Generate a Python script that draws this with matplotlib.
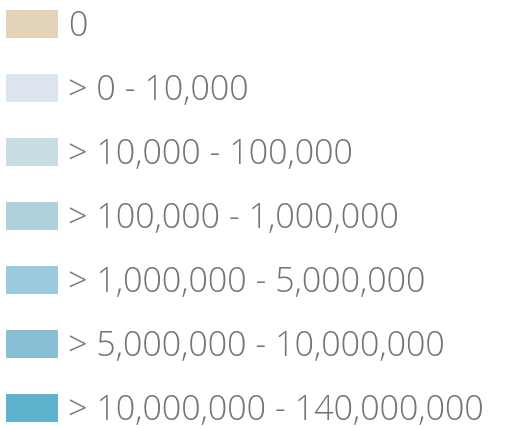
import numpy as np
import matplotlib.pyplot as plt

# legend classes (population ranges) and their fill colours
labels = [
    "0",
    "> 0 - 10,000",
    "> 10,000 - 100,000",
    "> 100,000 - 1,000,000",
    "> 1,000,000 - 5,000,000",
    "> 5,000,000 - 10,000,000",
    "> 10,000,000 - 140,000,000",
]
colors = ["#E2D3B8", "#DCE5EE", "#C9DDE4", "#AFD0DC", "#9DC9DC", "#87C0D5", "#5FB2CC"]

fig = plt.figure(figsize=(5.15, 4.31), dpi=100)
ax = fig.add_axes([0, 0, 1, 1])

y = np.arange(len(labels))
ax.barh(y, width=52, left=6, height=0.44, color=colors, edgecolor="none")
for yi, lab in zip(y, labels):
    ax.text(68, yi + 0.02, lab, ha="left", va="center", fontsize=24.5,
            family="Open Sans", fontweight="light", color="#747474")

ax.set_xlim(0, 515)
ax.set_ylim(6.34375, -0.390625)
ax.axis("off")

fig.savefig("out.png", dpi=100)
